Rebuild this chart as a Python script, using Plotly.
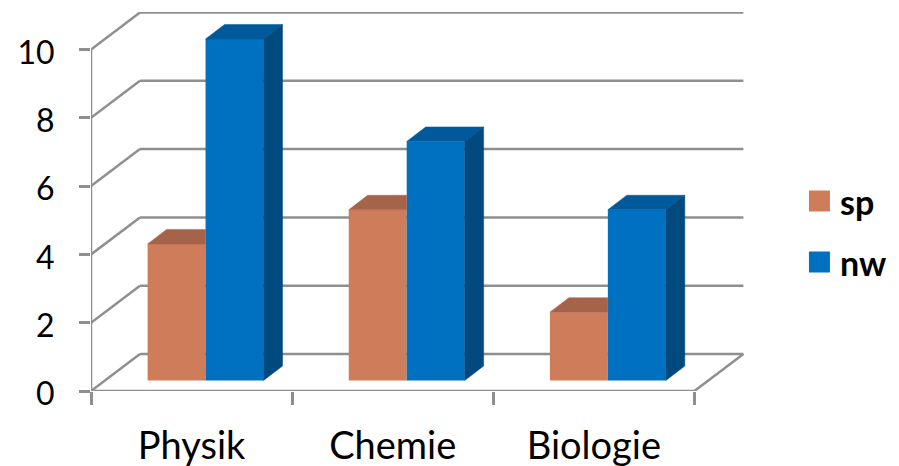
import plotly.graph_objects as go

categories = ["Physik", "Chemie", "Biologie"]
sp_values = [4, 5, 2]
nw_values = [10, 7, 5]
y_ticks = [0, 2, 4, 6, 8, 10]

W, H = 899, 466
PAGE = 8       # the page's own margin around the figure
L, R, T, B = 90.5, 154, 12, 75
PX_X = 201.3   # pixels per category
PX_Y = 34.15   # pixels per value unit
plot_w, plot_h = W - L - R, H - T - B
x_max, y_max = plot_w / PX_X, plot_h / PX_Y

WALL_DX, WALL_DY = 49 / PX_X, 37 / PX_Y       # depth of the chart box
BAR_DX, BAR_DY = 19 / PX_X, 14.5 / PX_Y       # depth of a bar
BASE = 10.5 / PX_Y                            # bars stand on the floor
BAR_SHIFT = 14 / PX_X                         # bars sit mid-depth, right of the label
BAR_W = 58 / PX_X
GRID = "#8f8f8f"
FONT = "Lato, Carlito, sans-serif"

SP_FRONT, SP_TOP = "#CE7C5A", "#A5634A"
NW_FRONT, NW_TOP, NW_SIDE = "#0070C0", "#00599A", "#004A80"

label_pos = [i + 0.5 for i in range(len(categories))]
centers = [p + BAR_SHIFT for p in label_pos]
fig = go.Figure()

fig.add_bar(x=centers, y=sp_values, base=BASE, width=BAR_W, offset=-BAR_W,
            marker=dict(color=SP_FRONT, line_width=0), name="sp", showlegend=False)
fig.add_bar(x=centers, y=nw_values, base=BASE, width=BAR_W, offset=0,
            marker=dict(color=NW_FRONT, line_width=0), name="nw", showlegend=False)


def face(xs, ys, color):
    fig.add_scatter(x=xs, y=ys, mode="lines", fill="toself", fillcolor=color,
                    line=dict(color=color, width=0.5), hoverinfo="skip", showlegend=False)


for c, s, n in zip(centers, sp_values, nw_values):
    # top of the sp bar: its right part is hidden by the taller nw bar
    st = s + BASE
    face([c - BAR_W, c - BAR_W + BAR_DX, c, c, c - BAR_W],
         [st, st + BAR_DY, st + BAR_DY, st, st], SP_TOP)
    nt = n + BASE
    face([c, c + BAR_DX, c + BAR_W + BAR_DX, c + BAR_W, c],
         [nt, nt + BAR_DY, nt + BAR_DY, nt, nt], NW_TOP)
    face([c + BAR_W, c + BAR_W + BAR_DX, c + BAR_W + BAR_DX, c + BAR_W, c + BAR_W],
         [BASE, BASE + BAR_DY, nt + BAR_DY, nt, BASE], NW_SIDE)

shapes = []


def seg(x0, y0, x1, y1):
    shapes.append(dict(type="line", xref="x", yref="y", x0=x0, y0=y0, x1=x1, y1=y1,
                       layer="below", line=dict(color=GRID, width=2.5)))


n_cat = len(categories)
for v in y_ticks:
    seg(0, v, WALL_DX, v + WALL_DY)
    seg(WALL_DX, v + WALL_DY, n_cat + WALL_DX, v + WALL_DY)
seg(0, 0, 0, max(y_ticks))
seg(0, 0, n_cat, 0)
seg(n_cat, 0, n_cat + WALL_DX, WALL_DY)

annotations = []
for label, color, py in [("sp", SP_FRONT, 201), ("nw", NW_FRONT, 262)]:
    shapes.append(dict(type="rect", xref="paper", yref="paper",
                       x0=(809 - L) / plot_w, x1=(830 - L) / plot_w,
                       y0=(H - B - py - 10.5) / plot_h, y1=(H - B - py + 10.5) / plot_h,
                       fillcolor=color, line_width=0))
    annotations.append(dict(xref="paper", yref="paper", x=(838 - L) / plot_w,
                            y=(H - B - py) / plot_h, text=f"<b>{label}</b>", showarrow=False,
                            xanchor="left", yanchor="middle",
                            font=dict(family=FONT, size=34, color="black")))

fig.update_layout(
    width=W, height=H, autosize=False,
    margin=dict(l=L - PAGE, r=R + PAGE, t=T - PAGE, b=B + PAGE, pad=0),
    plot_bgcolor="white", paper_bgcolor="white",
    barmode="overlay", showlegend=False,
    shapes=shapes, annotations=annotations,
    font=dict(family=FONT, size=32, color="black"),
    xaxis=dict(range=[0, x_max], tickvals=label_pos, ticktext=categories, ticks="",
               tickfont=dict(size=38),
               showgrid=False, zeroline=False, showline=False, ticklabelstandoff=29,
               minor=dict(tickvals=list(range(n_cat + 1)), ticks="outside", ticklen=13,
                          tickcolor=GRID, tickwidth=2.5, showgrid=False)),
    yaxis=dict(range=[0, y_max], tickvals=y_ticks, ticks="outside", ticklen=11,
               tickcolor=GRID, tickwidth=2.5, showgrid=False, zeroline=False, showline=False,
               ticklabelstandoff=18, ticklabelshift=3),
)
fig.write_html("out.html")
